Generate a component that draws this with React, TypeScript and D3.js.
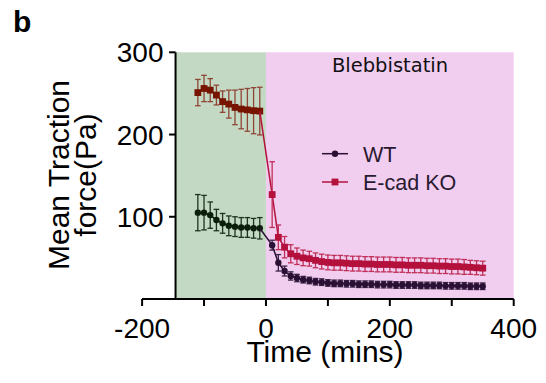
import React from "react";
import * as d3 from "d3";

const preTimes = [-110, -100, -90, -80, -70, -60, -50, -40, -30, -20, -10];
const postTimes = [10, 20, 30, 40, 50, 60, 70, 80, 90, 100, 110, 120, 130, 140, 150, 160, 170, 180, 190, 200, 210, 220, 230, 240, 250, 260, 270, 280, 290, 300, 310, 320, 330, 340, 350];

const wtPre = [105, 105, 102, 96, 92, 89, 88, 87, 87, 86, 86];
const wtPreErr = [22, 21, 16, 13, 12, 12, 12, 12, 12, 12, 13];
const koPre = [251, 256, 254, 248, 240, 237, 233, 231, 230, 229, 228.5];
const koPreErr = [16, 16, 14, 12, 13, 17, 21, 24, 26, 28, 29];

const wtPost = [65.5, 44, 34, 28, 25.5, 23.5, 22.5, 21, 20.5, 19.5, 19, 19, 18.5, 18.5, 18, 18, 18, 17.5, 17.5, 17.5, 17, 17, 17, 17, 16.5, 16.5, 16.5, 16.5, 16, 16, 16, 16, 15.5, 15.5, 15.5];
const wtPostErr = [6, 10, 6, 5, 4.5, 4, 4, 4, 4, 4, 4, 4, 4, 4, 4, 4, 4, 4, 4, 4, 4, 4, 4, 4, 4, 4, 4, 4, 4, 4, 4, 4, 4, 4, 4];
const koPost = [127, 75, 63, 55, 52, 50, 49, 47, 45.5, 44.5, 44, 44, 43.5, 43, 43, 42.5, 42.5, 42, 42, 42, 41.5, 41.5, 41, 41, 41, 40.5, 40.5, 40, 40, 39.5, 39.5, 39, 38.5, 38, 37.5];
const koPostErr = [40, 15, 13, 11, 10, 9.5, 9, 9, 9, 9, 9, 9, 9, 9, 9, 9, 9, 9, 9, 9, 9, 9, 9, 9, 9, 9, 9, 9, 9, 9, 9, 9, 8.5, 8.5, 8.5];

const xTicks = [-200, -100, 0, 100, 200, 300, 400];
const xLabels = [-200, 0, 200, 400];
const yTicks = [100, 200, 300];
const phaseStart = -146;
const phaseSwitch = 0;
const legendNames = ["WT", "E-cad KO"];

const W = 546, H = 383;
const x = d3.scaleLinear().domain([-200, 400]).range([142.1, 513.7]);
const y = d3.scaleLinear().domain([0, 300]).range([299, 52.3]);

const C = {
  green: "#c3d9c3",
  pink: "#f1cdf0",
  wtPre: "#0b1e0b",
  wtPreErr: "#1d331d",
  koPre: "#761400",
  koPreErr: "#8f4636",
  wtPost: "#2a1034",
  wtPostErr: "#3a2345",
  koPost: "#b3103c",
  koPostErr: "#c03058",
};

const font = "'Liberation Sans', Arial, sans-serif";

function Series({ times, vals, errs, color, errColor, marker, linePts }: any) {
  const line = d3.line<[number, number]>().x((d) => x(d[0])).y((d) => y(d[1]));
  const pts: [number, number][] = linePts || times.map((t: number, i: number) => [t, vals[i]]);
  return (
    <g>
      <path d={line(pts) || ""} fill="none" stroke={color} strokeWidth={1.5} />
      {times.map((t: number, i: number) => {
        const cx = x(t);
        const top = y(vals[i] + errs[i]);
        const bot = y(vals[i] - errs[i]);
        return (
          <g key={"e" + i} stroke={errColor} strokeWidth={1.3}>
            <line x1={cx} x2={cx} y1={top} y2={bot} />
            <line x1={cx - 2.8} x2={cx + 2.8} y1={top} y2={top} />
            <line x1={cx - 2.8} x2={cx + 2.8} y1={bot} y2={bot} />
          </g>
        );
      })}
      {times.map((t: number, i: number) =>
        marker === "square" ? (
          <rect key={"m" + i} x={x(t) - 3.4} y={y(vals[i]) - 3.4} width={6.8} height={6.8} fill={color} />
        ) : (
          <circle key={"m" + i} cx={x(t)} cy={y(vals[i])} r={3.2} fill={color} />
        )
      )}
    </g>
  );
}

export default function App() {
  const lastPre = preTimes.length - 1;
  const wtPostLine: [number, number][] = [[preTimes[lastPre], wtPre[lastPre]], ...postTimes.map((t, i) => [t, wtPost[i]] as [number, number])];
  const koPostLine: [number, number][] = [[preTimes[lastPre], koPre[lastPre]], ...postTimes.map((t, i) => [t, koPost[i]] as [number, number])];
  return (
    <svg width={W} height={H} style={{ position: "absolute", left: 0, top: 0, background: "#fff" }} fontFamily={font}>
      <rect x={x(phaseStart)} y={y(300)} width={x(phaseSwitch) - x(phaseStart)} height={y(0) - y(300)} fill={C.green} />
      <rect x={x(phaseSwitch)} y={y(300)} width={x(400) - x(phaseSwitch)} height={y(0) - y(300)} fill={C.pink} />

      <text x={13} y={31.5} fontSize={30} fontWeight="bold" fill="#000">b</text>
      <text x={390} y={71.5} fontSize={19.5} fontFamily="'DejaVu Sans', Verdana, sans-serif" textAnchor="middle" fill="#111">Blebbistatin</text>

      <Series times={preTimes} vals={koPre} errs={koPreErr} color={C.koPre} errColor={C.koPreErr} marker="square" />
      <Series times={preTimes} vals={wtPre} errs={wtPreErr} color={C.wtPre} errColor={C.wtPreErr} marker="circle" />
      <Series times={postTimes} vals={koPost} errs={koPostErr} color={C.koPost} errColor={C.koPostErr} marker="square" linePts={koPostLine} />
      <Series times={postTimes} vals={wtPost} errs={wtPostErr} color={C.wtPost} errColor={C.wtPostErr} marker="circle" linePts={wtPostLine} />

      {/* legend */}
      <g>
        <line x1={322} x2={348} y1={153.7} y2={153.7} stroke={C.wtPost} strokeWidth={1.5} />
        <circle cx={335} cy={153.7} r={3.2} fill={C.wtPost} />
        <text x={363} y={161.5} fontSize={21.5} fill="#2a1a30">{legendNames[0]}</text>
        <line x1={322} x2={348} y1={182} y2={182} stroke={C.koPost} strokeWidth={1.5} />
        <rect x={335 - 3.4} y={182 - 3.4} width={6.8} height={6.8} fill={C.koPost} />
        <text x={363} y={190} fontSize={21.5} fill="#2a1a30">{legendNames[1]}</text>
      </g>

      {/* x axis */}
      <g stroke="#000" strokeWidth={2}>
        <line x1={x(-200)} x2={x(400)} y1={y(0)} y2={y(0)} />
        {xTicks.map((t) => (
          <line key={t} x1={x(t)} x2={x(t)} y1={y(0)} y2={y(0) + 7} />
        ))}
      </g>
      {xLabels.map((t) => (
        <text key={t} x={x(t)} y={337.5} fontSize={28} textAnchor="middle" fill="#000">{t}</text>
      ))}
      <text x={325} y={361.5} fontSize={30} textAnchor="middle" fill="#000">Time (mins)</text>

      {/* y axis */}
      <g stroke="#000" strokeWidth={2}>
        <line x1={x(phaseStart)} x2={x(phaseStart)} y1={y(0)} y2={y(300)} />
        {yTicks.map((v) => (
          <line key={v} x1={x(phaseStart) - 6.5} x2={x(phaseStart)} y1={y(v)} y2={y(v)} />
        ))}
      </g>
      {yTicks.map((v) => (
        <text key={v} x={163.5} y={y(v) + 10} fontSize={28} textAnchor="end" fill="#000">{v}</text>
      ))}
      <g transform="translate(0,175) rotate(-90)" fontSize={30} textAnchor="middle" fill="#000">
        <text x={0} y={69}>Mean Traction</text>
        <text x={0} y={96}>force(Pa)</text>
      </g>
    </svg>
  );
}
